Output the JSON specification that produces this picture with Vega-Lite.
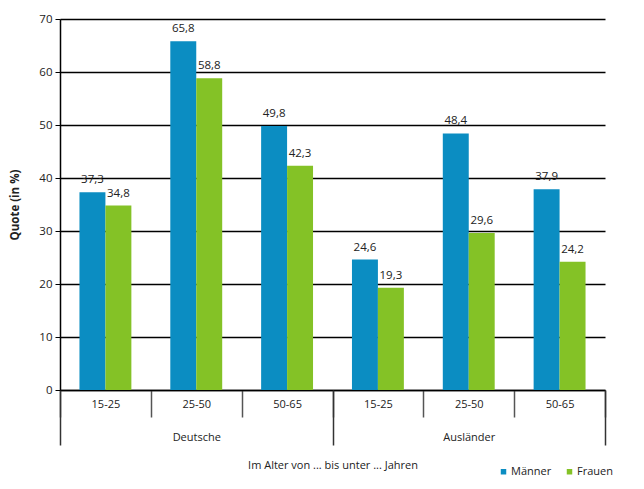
{
  "$schema": "https://vega.github.io/schema/vega-lite/v6.json",
  "width": 545,
  "height": 371,
  "autosize": {"type": "none"},
  "padding": {"left": 60, "top": 19, "right": 39, "bottom": 99},
  "data": {
    "values": [
      {"key": "D|15-25", "nat": "Deutsche", "sex": "Männer", "value": 37.3},
      {"key": "D|15-25", "nat": "Deutsche", "sex": "Frauen", "value": 34.8},
      {"key": "D|25-50", "nat": "Deutsche", "sex": "Männer", "value": 65.8},
      {"key": "D|25-50", "nat": "Deutsche", "sex": "Frauen", "value": 58.8},
      {"key": "D|50-65", "nat": "Deutsche", "sex": "Männer", "value": 49.8},
      {"key": "D|50-65", "nat": "Deutsche", "sex": "Frauen", "value": 42.3},
      {"key": "A|15-25", "nat": "Ausländer", "sex": "Männer", "value": 24.6},
      {"key": "A|15-25", "nat": "Ausländer", "sex": "Frauen", "value": 19.3},
      {"key": "A|25-50", "nat": "Ausländer", "sex": "Männer", "value": 48.4},
      {"key": "A|25-50", "nat": "Ausländer", "sex": "Frauen", "value": 29.6},
      {"key": "A|50-65", "nat": "Ausländer", "sex": "Männer", "value": 37.9},
      {"key": "A|50-65", "nat": "Ausländer", "sex": "Frauen", "value": 24.2}
    ]
  },
  "layer": [
    {
      "layer": [
        {
          "mark": {"type": "bar"},
          "encoding": {
            "x": {
              "field": "key", "type": "nominal",
              "scale": {"domain": ["D|15-25", "D|25-50", "D|50-65", "A|15-25", "A|25-50", "A|50-65"], "paddingInner": 0, "paddingOuter": 0},
              "axis": {
                "orient": "bottom", "title": null, "labelAngle": 0,
                "labelExpr": "split(datum.label, '|')[1]",
                "tickBand": "extent", "tickSize": 27, "tickColor": "#555555", "tickWidth": 1.5,
                "domainColor": "#000000", "domainWidth": 1.5,
                "labelPadding": -19, "labelFontSize": 11, "labelColor": "#222222", "grid": false
              }
            },
            "xOffset": {
              "field": "sex", "type": "nominal",
              "scale": {"domain": ["Männer", "Frauen"], "paddingInner": 0, "paddingOuter": 0.75}
            },
            "y": {
              "field": "value", "type": "quantitative",
              "scale": {"domain": [0, 70]},
              "axis": {
                "title": "Quote (in %)", "titleFontWeight": "bold", "titleFontSize": 11.5, "titleColor": "#222222", "titlePadding": 18,
                "values": [0, 10, 20, 30, 40, 50, 60, 70],
                "grid": true, "gridColor": "#000000", "gridWidth": 1.3,
                "domainColor": "#000000", "domainWidth": 1.5, "tickColor": "#000000", "tickSize": 5,
                "labelPadding": 3, "labelFontSize": 11.5, "labelColor": "#222222"
              }
            },
            "color": {
              "field": "sex", "type": "nominal",
              "scale": {"domain": ["Männer", "Frauen"], "range": ["#0b8dc2", "#84c226"]},
              "legend": {
                "orient": "none", "legendX": 438, "legendY": 447, "direction": "horizontal",
                "title": null, "symbolType": "square", "symbolSize": 30, "labelFontSize": 11,
                "labelColor": "#222222", "columnPadding": 12, "labelOffset": 2
              }
            }
          }
        },
        {
          "mark": {"type": "text", "baseline": "bottom", "dy": -7, "fontSize": 11.5, "color": "#222222"},
          "encoding": {
            "x": {"field": "key", "type": "nominal"},
            "xOffset": {"field": "sex", "type": "nominal"},
            "y": {"field": "value", "type": "quantitative"},
            "text": {"field": "value", "type": "quantitative", "format": ".1f"}
          }
        }
      ]
    },
    {
      "mark": {"type": "rule", "opacity": 0},
      "encoding": {
        "x": {
          "field": "nat", "type": "nominal",
          "scale": {"domain": ["Deutsche", "Ausländer"], "paddingInner": 0, "paddingOuter": 0},
          "axis": {
            "orient": "bottom", "title": "Im Alter von ... bis unter ... Jahren", "titleFontWeight": "normal",
            "titleFontSize": 11, "titleColor": "#222222", "titlePadding": 14,
            "labelAngle": 0, "tickBand": "extent", "tickSize": 55, "tickColor": "#333333", "tickWidth": 1.5,
            "domain": false, "labelPadding": -14, "labelFontSize": 11, "labelColor": "#222222", "grid": false
          }
        }
      }
    }
  ],
  "resolve": {"scale": {"x": "independent"}, "axis": {"x": "independent"}},
  "config": {
    "font": "Open Sans",
    "view": {"stroke": null},
    "locale": {"number": {"decimal": ",", "thousands": ".", "grouping": [3], "currency": ["", " €"]}}
  }
}
